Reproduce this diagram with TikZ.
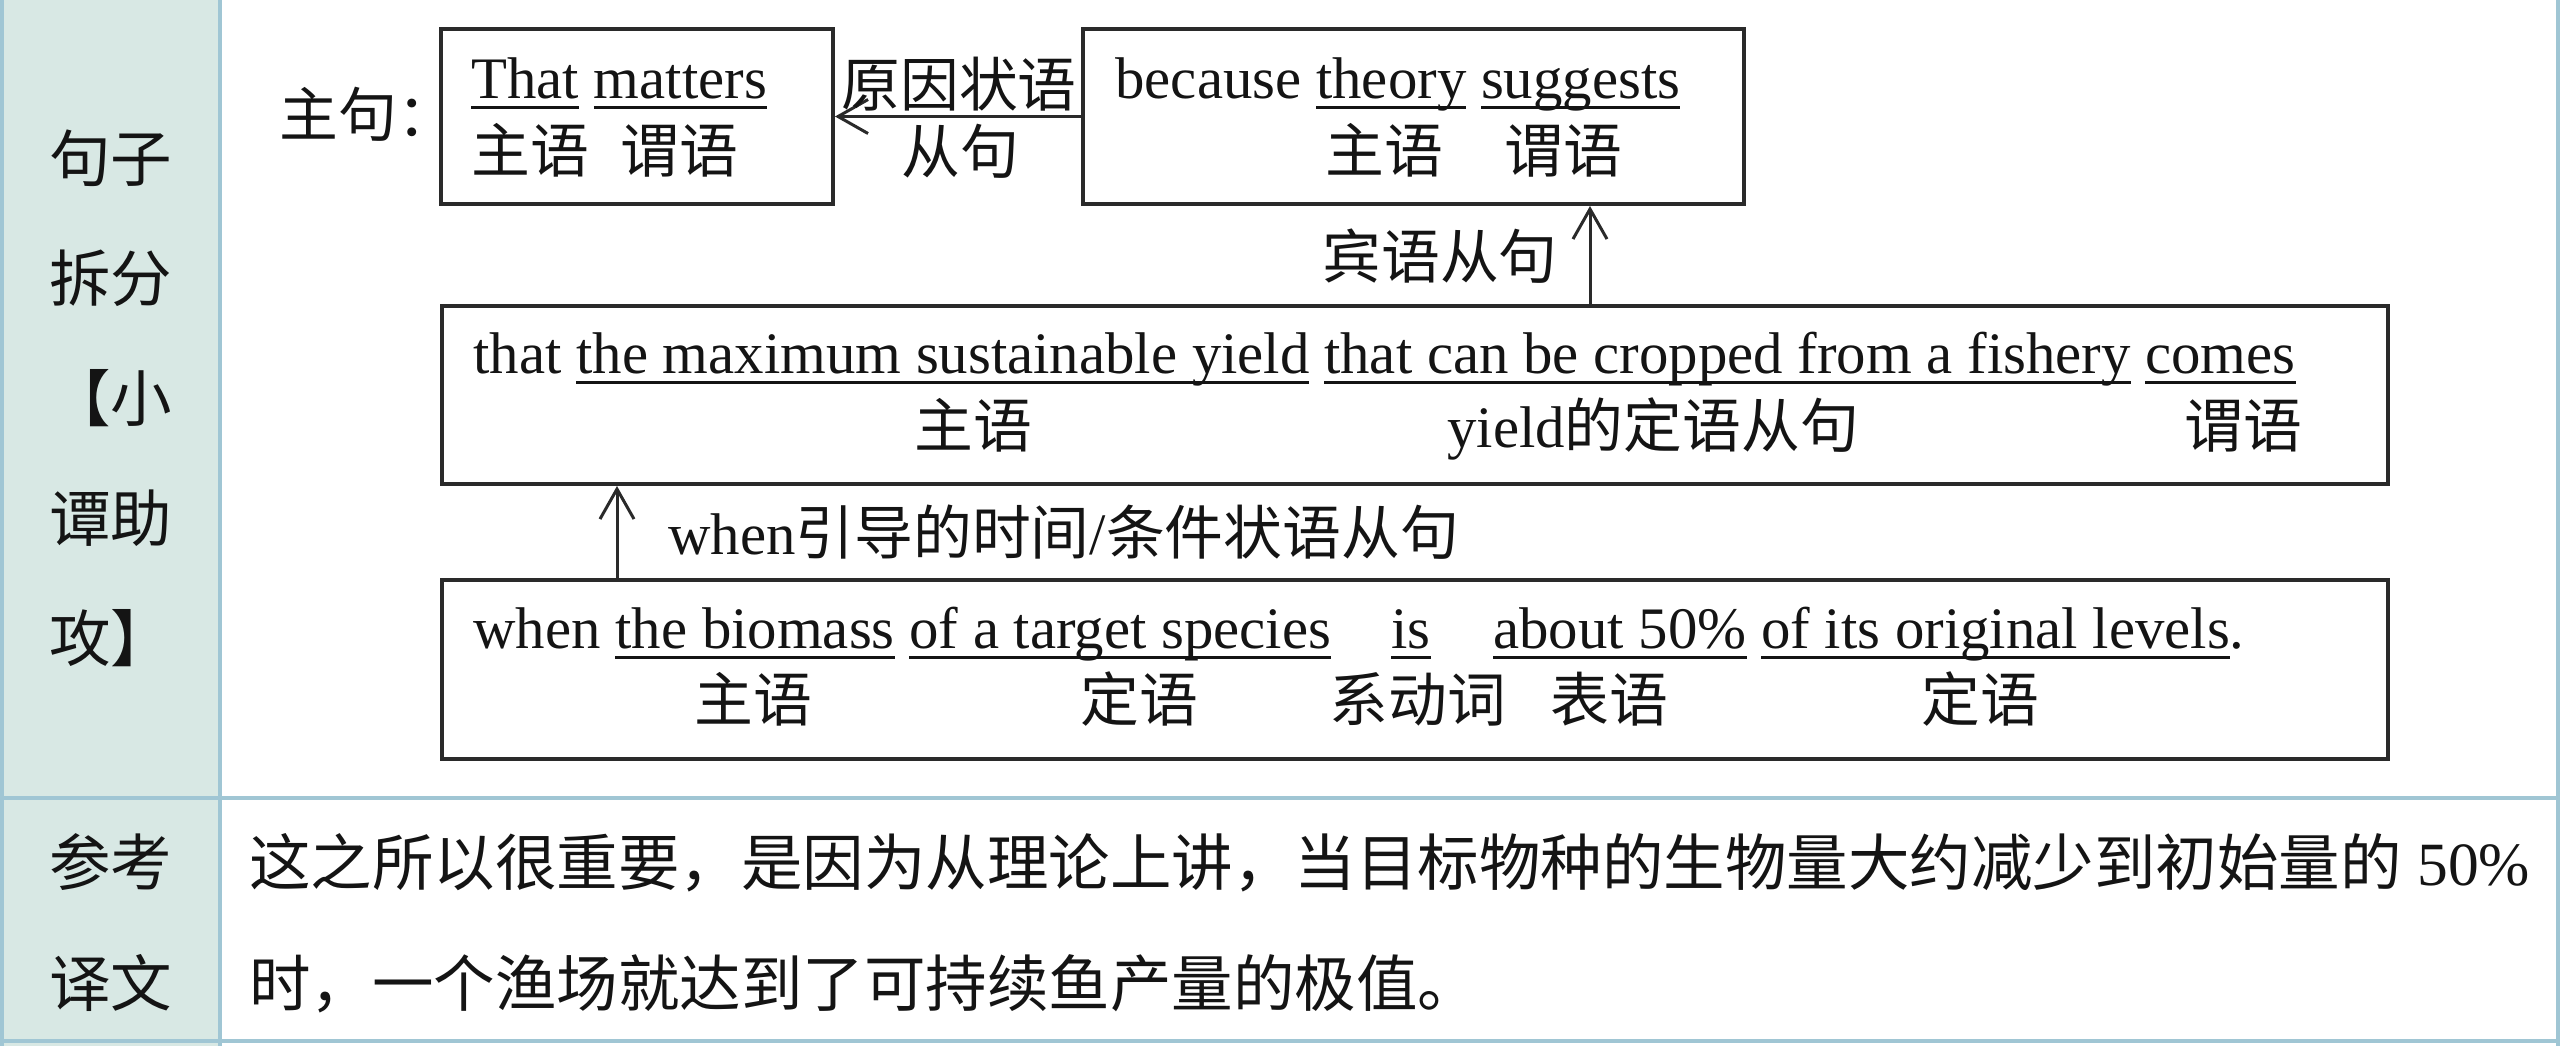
\documentclass[tikz,border=0pt]{standalone}
\usepackage{fontspec}
\setmainfont{Liberation Serif}
\newfontfamily\cjk{Noto Sans CJK SC}
\usetikzlibrary{arrows.meta}
\definecolor{colfill}{RGB}{216,232,228}
\definecolor{gridc}{RGB}{160,198,212}
\definecolor{boxc}{RGB}{42,42,42}
\definecolor{txt}{RGB}{20,20,20}
\newcommand\zh[1]{{\cjk #1}}
\newcommand\und[1]{\setbox0\hbox{#1}\rlap{\rule[-5.5pt]{\wd0}{1.5pt}}\box0\relax}
\tikzset{
  boxnode/.style={draw=boxc, line width=2pt, inner sep=0pt, anchor=north west},
  en/.style={anchor=base west, inner sep=0pt, text=txt, font=\fontsize{29.4}{35}\selectfont},
  zhl/.style={anchor=base west, inner sep=0pt, text=txt, font=\fontsize{29.4}{35}\selectfont\cjk},
  big/.style={anchor=base west, inner sep=0pt, text=txt, font=\fontsize{30.75}{37}\selectfont\cjk},
  arr/.style={draw=boxc, line width=1.5pt, -{Straight Barb[length=15pt,width=17pt,line width=1.5pt]}},
  gridline/.style={draw=gridc, line width=2pt},
}
\begin{document}
\begin{tikzpicture}[x=0.5pt,y=-0.5pt]
\useasboundingbox (0,0) rectangle (2560,1046);
% table frame
\fill[colfill] (0,0) rectangle (220,1046);
\draw[gridline] (1.5,0) -- (1.5,1046);
\draw[gridline] (220,0) -- (220,1046);
\draw[gridline] (2558,0) -- (2558,1046);
\draw[gridline] (0,798) -- (2560,798);
\draw[gridline] (0,1041) -- (2560,1041);
% left column labels
\node[big] (l1) at (49,181) {句子};
\node[big] (l2) at (49,301) {拆分};
\node[big] (l3) at (49,421) {【小};
\node[big] (l4) at (49,541) {谭助};
\node[big] (l5) at (49,661) {攻】};
\node[big] (l6) at (49,885) {参考};
\node[big] (l7) at (49,1006) {译文};
% translation
\node[big] (tr1) at (249,885) {这之所以很重要，是因为从理论上讲，当目标物种的生物量大约减少到初始量的{\rmfamily\ 50\%}};
\node[big] (tr2) at (249,1006) {时，一个渔场就达到了可持续鱼产量的极值。};
% boxes
\node[boxnode, minimum width=196pt, minimum height=87.5pt] (b1) at (439,27) {};
\node[boxnode, minimum width=330.5pt, minimum height=87.5pt] (b2) at (1081,27) {};
\node[boxnode, minimum width=973pt, minimum height=89pt] (b3) at (440,304) {};
\node[boxnode, minimum width=973pt, minimum height=89.5pt] (b4) at (440,578) {};
% connectors
\coordinate (xa) at (1590,0);
\coordinate (xb) at (617,0);
\draw[arr] (b2.west) -- (b1.east);
\draw[arr] (b3.north -| xa) -- (b2.south -| xa);
\draw[arr] (b4.north -| xb) -- (b3.south -| xb);
% main clause
\node[zhl] (zj) at (279,136) {主句：};
\node[en] (t1) at (471,98) {\und{That} \und{matters}};
\node[zhl] (t1a) at (471,172) {主语};
\node[zhl] (t1b) at (620,172) {谓语};
\node[zhl] (yy) at (841,106) {原因状语};
\node[zhl] (yy2) at (901,173) {从句};
% because box
\node[en] (t2) at (1115,98) {because \und{theory} \und{suggests}};
\node[zhl] (t2a) at (1325,172) {主语};
\node[zhl] (t2b) at (1504,172) {谓语};
\node[zhl] (by) at (1322,278) {宾语从句};
% that box
\node[en] (t3) at (473,373) {that \und{the maximum sustainable yield} \und{that can be cropped from a fishery} \und{comes}};
\node[zhl] (t3a) at (914,447) {主语};
\node[en] (t3b) at (1447,447) {yield\zh{的定语从句}};
\node[zhl] (t3c) at (2184,447) {谓语};
\node[en] (wl) at (668,554) {when\zh{引导的时间}/\zh{条件状语从句}};
% when box
\node[en] (t4a) at (473,648) {when \und{the biomass} \und{of a target species}};
\node[en] (t4b) at (1391,648) {\und{is}};
\node[en] (t4c) at (1493,648) {\und{about 50\%} \und{of its original levels}.};
\node[zhl] (t4d) at (694,721) {主语};
\node[zhl] (t4e) at (1080,721) {定语};
\node[zhl] (t4f) at (1329,721) {系动词};
\node[zhl] (t4g) at (1550,721) {表语};
\node[zhl] (t4h) at (1921,721) {定语};
\end{tikzpicture}
\end{document}
